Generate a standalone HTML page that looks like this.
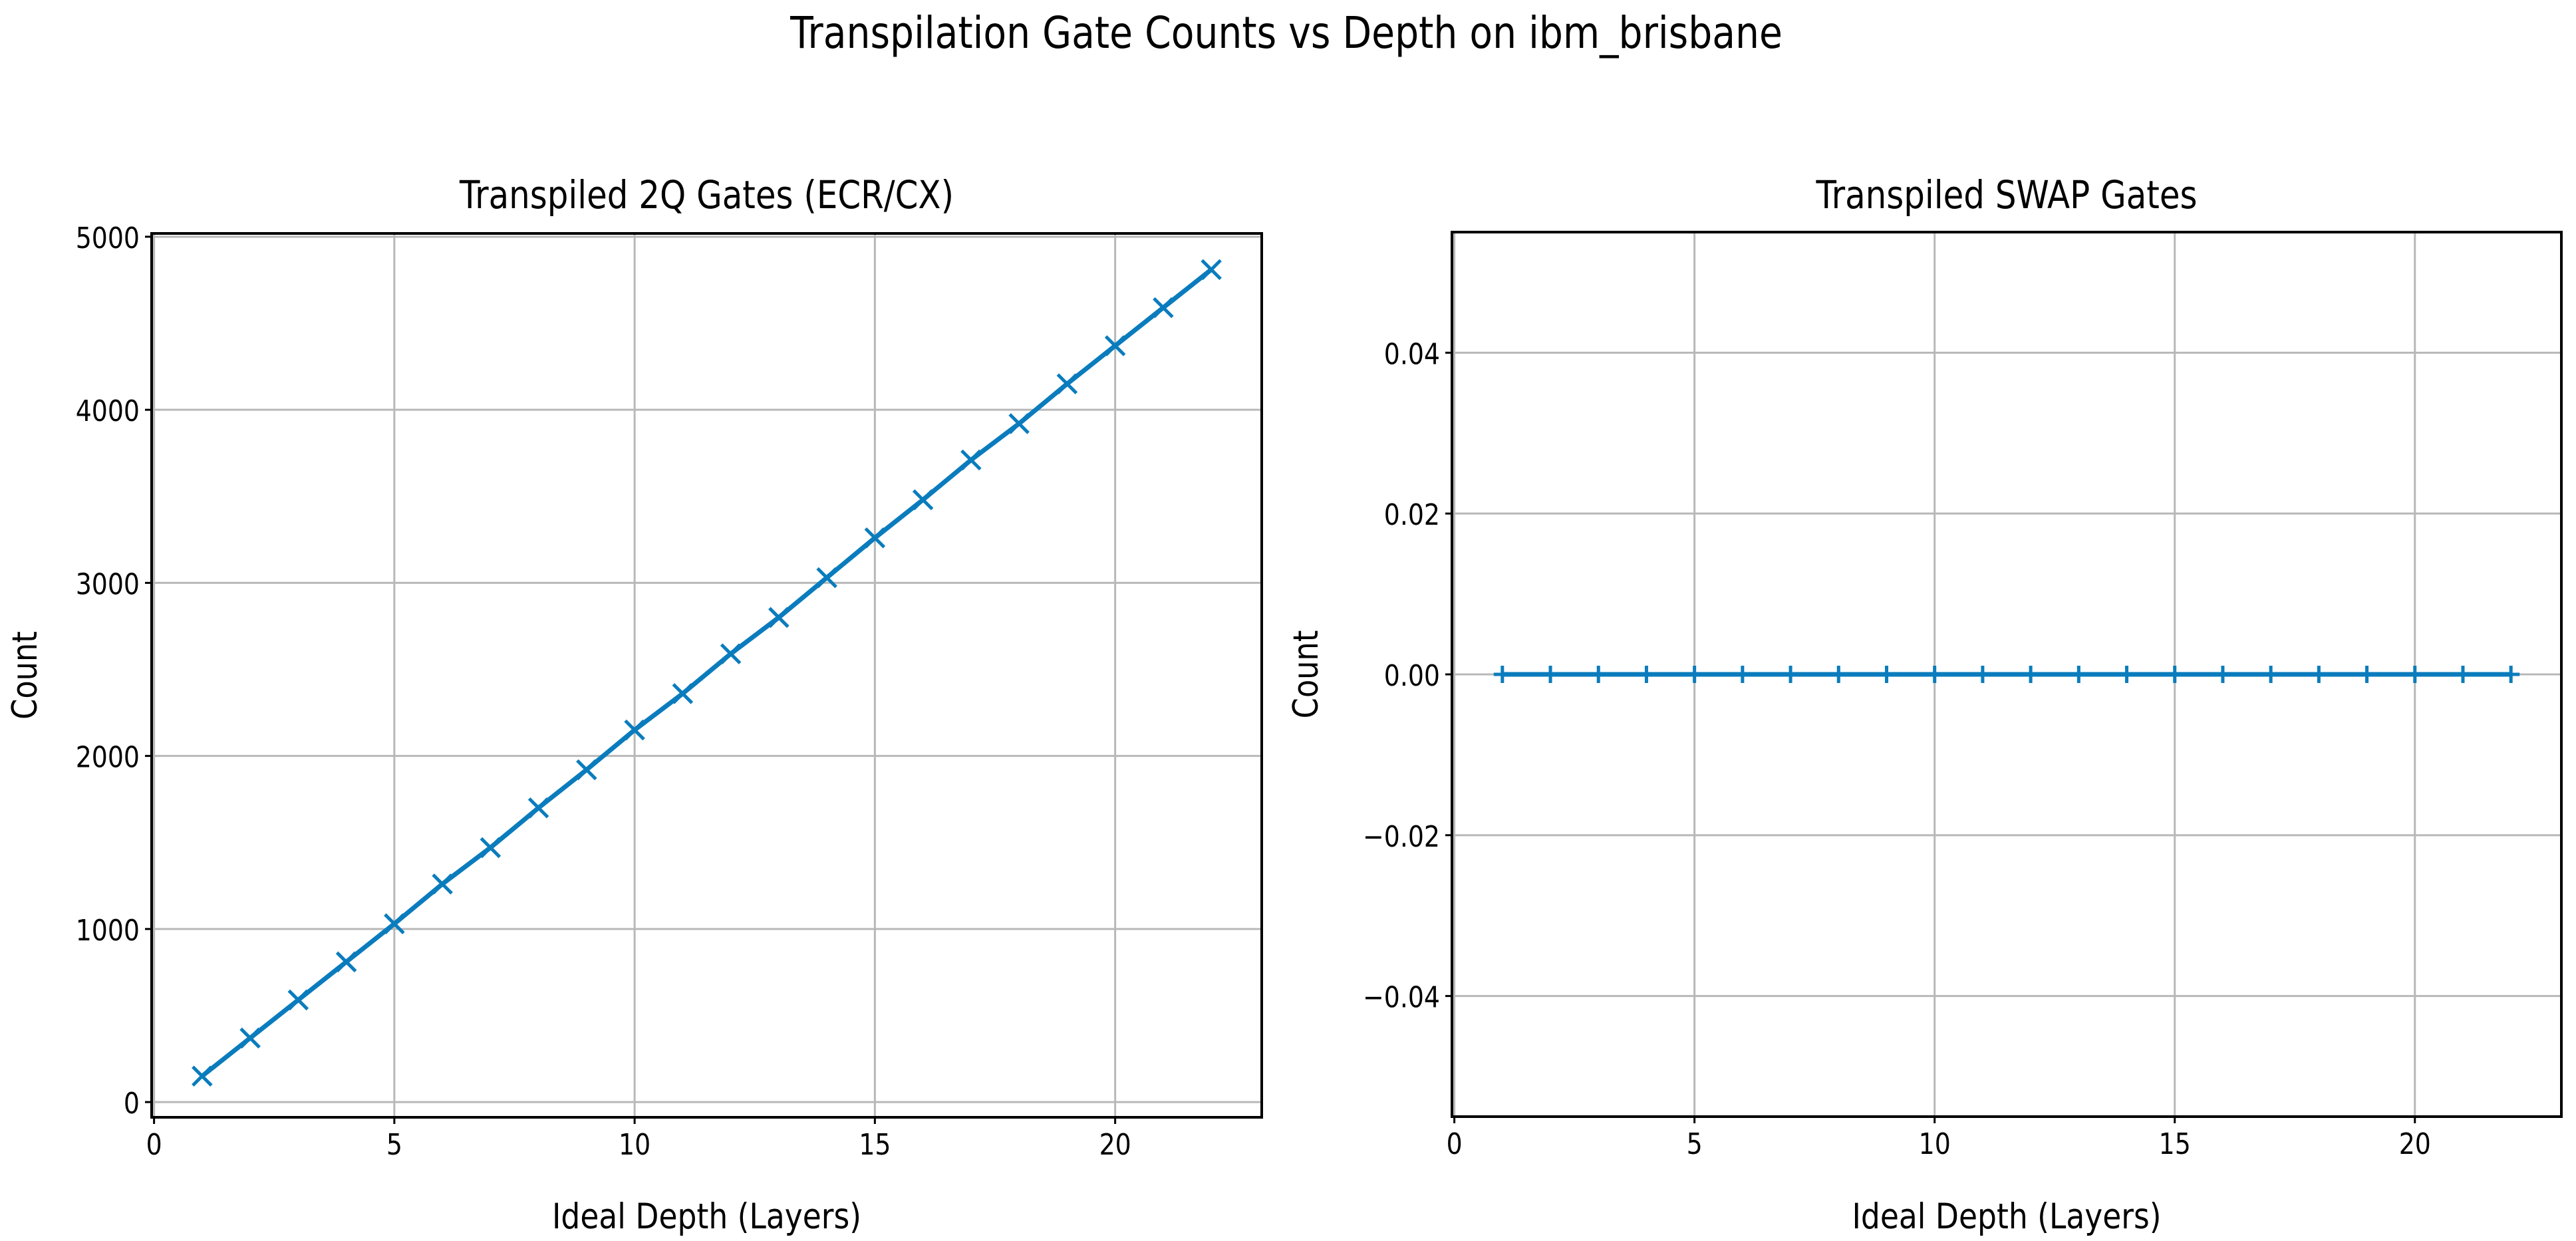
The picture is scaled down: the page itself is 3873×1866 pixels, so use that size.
<!DOCTYPE html>
<html><head><meta charset="utf-8"><style>html,body{margin:0;padding:0;background:#fff}svg{display:block}</style></head>
<body>
<svg id="fig" xmlns="http://www.w3.org/2000/svg" width="3873" height="1866" viewBox="0 0 3873 1866" font-family="'DejaVu Sans','Liberation Sans',sans-serif"></svg>
<script>
const depths = [1,2,3,4,5,6,7,8,9,10,11,12,13,14,15,16,17,18,19,20,21,22];
const twoQCounts = [150,370,590,810,1030,1260,1470,1700,1920,2150,2360,2590,2800,3030,3260,3480,3710,3920,4150,4370,4590,4810];
const swapCounts = [0,0,0,0,0,0,0,0,0,0,0,0,0,0,0,0,0,0,0,0,0,0];
const xTicks = [0,5,10,15,20];
const leftYTicks = [0,1000,2000,3000,4000,5000];
const rightYTicks = [-0.04,-0.02,0,0.02,0.04];
const rightYLabels = ["\u22120.04","\u22120.02","0.00","0.02","0.04"];

const NS = "http://www.w3.org/2000/svg";
const svg = document.getElementById('fig');
const SX = 0.86;
const COLOR = "#0a7cbd";
function mk(tag, attrs, parent){const e=document.createElementNS(NS,tag);for(const k in attrs)e.setAttribute(k,attrs[k]);(parent||svg).appendChild(e);return e;}
function txt(x,y,s,size,anchor,parent,rot){
  const g=mk('g',{transform: rot?`translate(${x},${y}) rotate(-90) scale(${SX},1)`:`translate(${x},${y}) scale(${SX},1)`},parent);
  const t=mk('text',{x:0,y:0,'font-size':size,'text-anchor':anchor||'middle',fill:'#000'},g);
  t.textContent=s;return t;
}

const title = txt(1934,72,"Transpilation Gate Counts vs Depth on ibm_brisbane",66,'middle');



function panel(cfg){
  const g=mk('g',{});
  
  
  const L=cfg.L,R=cfg.R,T=cfg.T,B=cfg.B;
  const xs=v=>L+(v-cfg.xmin)/(cfg.xmax-cfg.xmin)*(R-L);
  const ys=v=>B-(v-cfg.ymin)/(cfg.ymax-cfg.ymin)*(B-T);
  xTicks.forEach(v=>{
    const l=mk('line',{x1:xs(v),x2:xs(v),y1:T,y2:B,stroke:'#b8b8b8','stroke-width':3},g);
    
    
  });
  cfg.yTicks.forEach(v=>{
    const l=mk('line',{x1:L,x2:R,y1:ys(v),y2:ys(v),stroke:'#b8b8b8','stroke-width':3},g);
    
    
  });
  const pts=depths.map((d,i)=>xs(d)+','+ys(cfg.values[i])).join(' ');
  const pl=mk('polyline',{points:pts,fill:'none',stroke:COLOR,'stroke-width':7,'stroke-linejoin':'round'},g);
  
  
  depths.forEach((d,i)=>{
    const cx=xs(d),cy=ys(cfg.values[i]);
    const m=cfg.marker==='x'
      ? mk('path',{d:`M${cx-14},${cy-14}L${cx+14},${cy+14}M${cx-14},${cy+14}L${cx+14},${cy-14}`,stroke:COLOR,'stroke-width':5},g)
      : mk('path',{d:`M${cx-13},${cy}L${cx+13},${cy}M${cx},${cy-13}L${cx},${cy+13}`,stroke:COLOR,'stroke-width':5},g);
    
    
  });
  const fr=mk('rect',{x:L,y:T,width:R-L,height:B-T,fill:'none',stroke:'#000','stroke-width':4},g);
  
  
  xTicks.forEach(v=>{
    mk('line',{x1:xs(v),x2:xs(v),y1:B,y2:B+10,stroke:'#000','stroke-width':3},g);
    const t=txt(xs(v),B+56,String(v),44,'middle',g);
    
    
  });
  cfg.yTicks.forEach((v,i)=>{
    mk('line',{x1:L-10,x2:L,y1:ys(v),y2:ys(v),stroke:'#000','stroke-width':3},g);
    const t=txt(L-18,ys(v)+17,cfg.yLabels[i],44,'end',g);
    
    
  });
  const st=txt((L+R)/2,313,cfg.title,58,'middle',g);
  
  
  const xl=txt((L+R)/2,1847,"Ideal Depth (Layers)",53,'middle',g);
  
  
  const yl=txt(cfg.ylabX,(T+B)/2,"Count",52,'middle',g,true);
  
  
}

panel({name:'two-qubit-gates-panel',L:228,R:1897,T:351,B:1680,xmin:-0.05,xmax:23.05,ymin:-88,ymax:5019,
  yTicks:leftYTicks,yLabels:leftYTicks.map(String),values:twoQCounts,marker:'x',title:"Transpiled 2Q Gates (ECR/CX)",ylabX:55});
panel({name:'swap-gates-panel',L:2183,R:3851,T:349,B:1679,xmin:-0.05,xmax:23.05,ymin:-0.055,ymax:0.055,
  yTicks:rightYTicks,yLabels:rightYLabels,values:swapCounts,marker:'+',title:"Transpiled SWAP Gates",ylabX:1981});
</script>
</body></html>
